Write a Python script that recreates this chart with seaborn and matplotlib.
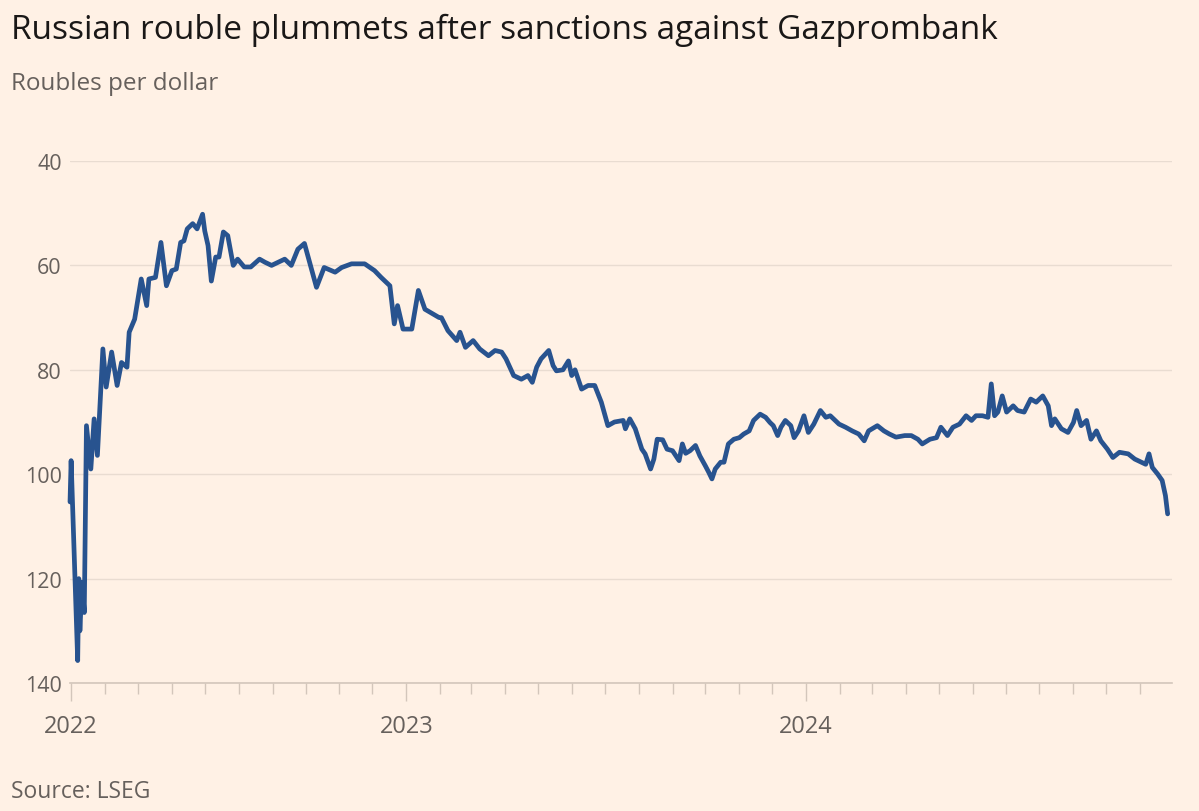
import numpy as np
import pandas as pd
import matplotlib
matplotlib.use("Agg")
import matplotlib.pyplot as plt
import matplotlib.dates as mdates
import seaborn as sns


# DATA (roubles per dollar)

dates = [
    "2022-02-28", "2022-03-01", "2022-03-07", "2022-03-08", "2022-03-09", "2022-03-11",
    "2022-03-13", "2022-03-15", "2022-03-19", "2022-03-22", "2022-03-25", "2022-03-30",
    "2022-04-02", "2022-04-07", "2022-04-12", "2022-04-16", "2022-04-21", "2022-04-23",
    "2022-04-28", "2022-05-04", "2022-05-09", "2022-05-11", "2022-05-17", "2022-05-22",
    "2022-05-27", "2022-06-01", "2022-06-05", "2022-06-09", "2022-06-12", "2022-06-15",
    "2022-06-20", "2022-06-24", "2022-06-29", "2022-07-01", "2022-07-04", "2022-07-07",
    "2022-07-11", "2022-07-14", "2022-07-18", "2022-07-22", "2022-07-27", "2022-07-31",
    "2022-08-06", "2022-08-12", "2022-08-20", "2022-08-25", "2022-08-31", "2022-09-12",
    "2022-09-18", "2022-09-24", "2022-09-30", "2022-10-03", "2022-10-11", "2022-10-18",
    "2022-10-28", "2022-11-03", "2022-11-12", "2022-11-24", "2022-12-03", "2022-12-09",
    "2022-12-17", "2022-12-21", "2022-12-24", "2022-12-29", "2023-01-06", "2023-01-12",
    "2023-01-18", "2023-01-31", "2023-02-02", "2023-02-08", "2023-02-16", "2023-02-19",
    "2023-02-24", "2023-03-03", "2023-03-09", "2023-03-17", "2023-03-23", "2023-03-29",
    "2023-04-02", "2023-04-09", "2023-04-16", "2023-04-22", "2023-04-26", "2023-04-30",
    "2023-05-04", "2023-05-11", "2023-05-15", "2023-05-18", "2023-05-24", "2023-05-29",
    "2023-06-01", "2023-06-04", "2023-06-10", "2023-06-16", "2023-06-22", "2023-06-28",
    "2023-07-04", "2023-07-10", "2023-07-18", "2023-07-20", "2023-07-24", "2023-07-29",
    "2023-08-04", "2023-08-07", "2023-08-12", "2023-08-15", "2023-08-18", "2023-08-23",
    "2023-08-27", "2023-09-01", "2023-09-07", "2023-09-10", "2023-09-13", "2023-09-17",
    "2023-09-22", "2023-09-26", "2023-10-01", "2023-10-04", "2023-10-07", "2023-10-10",
    "2023-10-15", "2023-10-18", "2023-10-22", "2023-10-27", "2023-11-01", "2023-11-05",
    "2023-11-10", "2023-11-14", "2023-11-20", "2023-11-25", "2023-11-29", "2023-12-02",
    "2023-12-06", "2023-12-09", "2023-12-13", "2023-12-18", "2023-12-21", "2023-12-25",
    "2023-12-30", "2024-01-03", "2024-01-08", "2024-01-14", "2024-01-19", "2024-01-23",
    "2024-01-31", "2024-02-06", "2024-02-12", "2024-02-18", "2024-02-23", "2024-02-27",
    "2024-03-06", "2024-03-12", "2024-03-17", "2024-03-23", "2024-03-31", "2024-04-06",
    "2024-04-12", "2024-04-16", "2024-04-23", "2024-04-29", "2024-05-03", "2024-05-09",
    "2024-05-14", "2024-05-20", "2024-05-26", "2024-05-31", "2024-06-04", "2024-06-10",
    "2024-06-15", "2024-06-18", "2024-06-21", "2024-06-24", "2024-06-28", "2024-07-02",
    "2024-07-08", "2024-07-12", "2024-07-18", "2024-07-24", "2024-07-29", "2024-08-04",
    "2024-08-09", "2024-08-12", "2024-08-15", "2024-08-21", "2024-08-27", "2024-09-01",
    "2024-09-04", "2024-09-08", "2024-09-13", "2024-09-17", "2024-09-22", "2024-09-26",
    "2024-10-02", "2024-10-07", "2024-10-13", "2024-10-21", "2024-10-27", "2024-11-02",
    "2024-11-06", "2024-11-09", "2024-11-12", "2024-11-17", "2024-11-21", "2024-11-24",
    "2024-11-26",
]

roubles = [
    105.3, 97.4, 135.7, 120.0, 130.0, 120.7,
    126.5, 90.7, 99.0, 89.4, 96.4, 76.0,
    83.3, 76.6, 83.0, 78.6, 79.5, 72.8,
    70.3, 62.6, 67.7, 62.6, 62.3, 55.6,
    63.9, 61.0, 60.7, 55.6, 55.3, 53.0,
    52.0, 53.0, 50.2, 53.4, 56.2, 63.0,
    58.4, 58.4, 53.6, 54.3, 60.0, 58.8,
    60.3, 60.3, 58.8, 59.4, 60.0, 58.8,
    60.0, 56.9, 55.8, 58.1, 64.2, 60.4,
    61.3, 60.4, 59.7, 59.7, 61.0, 62.3,
    63.9, 71.2, 67.7, 72.2, 72.2, 64.8,
    68.4, 70.0, 70.0, 72.5, 74.4, 72.8,
    75.7, 74.4, 76.0, 77.3, 76.3, 76.6,
    77.9, 81.1, 81.8, 81.1, 82.4, 79.5,
    77.9, 76.3, 79.2, 80.2, 80.0, 78.3,
    81.1, 80.0, 83.7, 83.0, 83.0, 86.2,
    90.7, 90.0, 89.7, 91.3, 89.4, 91.3,
    95.2, 96.1, 99.0, 97.1, 93.3, 93.4,
    95.2, 95.5, 97.4, 94.2, 96.0, 95.5,
    94.5, 96.5, 98.4, 99.6, 100.9, 99.0,
    97.7, 97.7, 94.2, 93.3, 93.0, 92.3,
    91.7, 89.7, 88.5, 89.1, 90.1, 90.7,
    92.6, 91.0, 89.7, 90.7, 93.0, 91.7,
    88.8, 92.0, 90.4, 87.8, 89.1, 88.8,
    90.4, 91.0, 91.7, 92.3, 93.6, 91.7,
    90.7, 91.7, 92.3, 92.9, 92.6, 92.6,
    93.3, 94.2, 93.3, 93.0, 91.0, 92.6,
    91.0, 90.4, 88.8, 89.7, 88.8, 88.8,
    89.1, 82.7, 88.8, 88.1, 85.0, 88.1,
    86.9, 87.8, 88.1, 85.6, 86.2, 85.0,
    86.9, 90.7, 89.4, 91.3, 92.0, 90.1,
    87.8, 90.7, 89.7, 93.3, 91.7, 93.6,
    95.2, 96.8, 95.8, 96.1, 97.1, 97.7,
    98.1, 96.1, 98.7, 100.0, 101.2, 104.1,
    107.6,
]

y_ticks = [40, 60, 80, 100, 120, 140]
year_ticks = ["2022-03-01", "2023-01-01", "2024-01-01"]
year_labels = ["2022", "2023", "2024"]

title = "Russian rouble plummets after sanctions against Gazprombank"
subtitle = "Roubles per dollar"
source = "Source: LSEG"


# STYLE

BG = "#FFF1E5"
GRID = "#E9DCD1"
AXIS = "#D3C6BB"
GREY = "#66605C"
LINE = "#28538F"

sns.set_theme(style="white", rc={"figure.facecolor": BG, "axes.facecolor": BG})
plt.rcParams["font.family"] = ["Open Sans", "DejaVu Sans"]


# PLOT

df = pd.DataFrame({"date": pd.to_datetime(dates), "rate": roubles})

fig = plt.figure(figsize=(11.99, 8.12), dpi=100)
ax = fig.add_axes([0.0584, 0.1576, 0.9191, 0.6429])

sns.lineplot(data=df, x="date", y="rate", ax=ax, color=LINE, linewidth=3.4,
             solid_joinstyle="round", solid_capstyle="round", clip_on=False, zorder=3)

ax.set_ylim(140, 40)
ax.set_yticks(y_ticks)
ax.set_xlim(pd.Timestamp("2022-02-28"), pd.Timestamp("2024-11-30"))

ax.set_xticks(pd.to_datetime(year_ticks))
ax.set_xticklabels(year_labels)
ax.xaxis.set_minor_locator(mdates.MonthLocator())

ax.grid(axis="y", color=GRID, linewidth=1)
ax.set_axisbelow(True)
for side in ["top", "right", "left"]:
    ax.spines[side].set_visible(False)
ax.spines["bottom"].set_color(AXIS)
ax.spines["bottom"].set_linewidth(1.2)

ax.tick_params(axis="y", length=0, pad=6, labelsize=15.5, labelcolor=GREY)
ax.tick_params(axis="x", which="major", bottom=True, length=13, width=1, color=AXIS,
               pad=9, labelsize=17, labelcolor=GREY)
ax.tick_params(axis="x", which="minor", bottom=True, length=8, width=1, color=AXIS)
ax.set_xlabel("")
ax.set_ylabel("")

fig.text(0.009, 1 - 39 / 812, title, fontsize=24, color="#1A1817", va="baseline")
fig.text(0.009, 1 - 90 / 812, subtitle, fontsize=17.5, color=GREY, va="baseline")
fig.text(0.009, 1 - 798 / 812, source, fontsize=16.5, color=GREY, va="baseline")

fig.savefig("out.png", dpi=100, facecolor=BG)
